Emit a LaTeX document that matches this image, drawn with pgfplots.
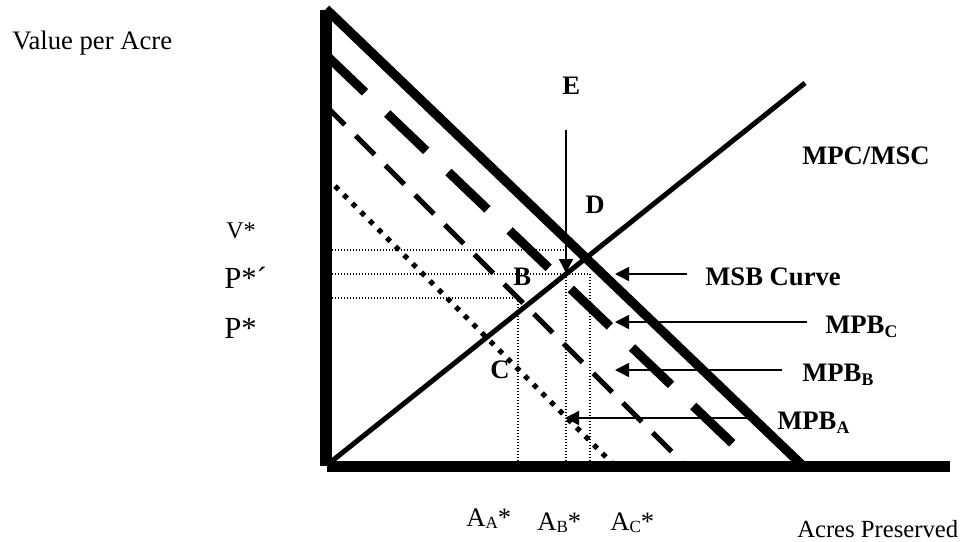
\documentclass[border=0pt]{standalone}
\usepackage{fontspec}
\setmainfont{Liberation Serif}
\usepackage{pgfplots}
\pgfplotsset{compat=1.18}
\usetikzlibrary{arrows.meta}
\newcommand{\bsub}[1]{\raisebox{-3pt}{\fontsize{13.3}{14}\selectfont\bfseries #1}}
\newcommand{\rsub}[1]{\raisebox{-2pt}{\fontsize{12.8}{14}\selectfont #1}}
\begin{document}
\begin{tikzpicture}[
  lab/.style={font=\fontsize{20}{24}\selectfont, inner sep=0pt, anchor=base west},
  blab/.style={font=\fontsize{20}{24}\selectfont\bfseries, inner sep=0pt, anchor=base west},
  arr/.style={black, line width=1.1pt, -{Triangle[length=10.5pt,width=10.5pt]}},
  dots/.style={black, line width=0.9pt, dash pattern=on 0.9pt off 1.35pt}
]
\begin{axis}[
  scale only axis, width=729pt, height=406.5pt,
  xmin=0, xmax=972, ymin=0, ymax=542, y dir=reverse,
  hide axis, clip=false
]
\path (axis cs:0,0) rectangle (axis cs:972,542);
% dotted guide lines
\addplot[dots] coordinates {(332,250) (568,250)};
\addplot[dots] coordinates {(332,274) (590,274)};
\addplot[dots] coordinates {(332,298) (518,298)};
\addplot[dots] coordinates {(518,298) (518,461)};
\addplot[dots] coordinates {(566,274) (566,461)};
\addplot[dots] coordinates {(590,274) (590,461)};
% MSB curve
\addplot[black, line width=7pt] coordinates {(326,9) (803,466)};
% MPB_C
\addplot[black, line width=6.8pt, dash pattern=on 40.5pt off 23pt] coordinates {(326,55) (756,466)};
% MPB_B
\addplot[black, line width=3.75pt, dash pattern=on 20pt off 11.5pt] coordinates {(326,106) (686,466)};
% MPB_A
\addplot[black, line width=3.75pt, dash pattern=on 3.75pt off 5.4pt] coordinates {(335,186) (613,464)};
% MPC/MSC
\addplot[black, line width=3.75pt] coordinates {(332,461) (805,83)};
% arrows
\addplot[arr] coordinates {(566,130) (566,273)};
\addplot[arr] coordinates {(687,274) (615,274)};
\addplot[arr] coordinates {(807,322) (615,322)};
\addplot[arr] coordinates {(782,370) (615,370)};
\addplot[arr] coordinates {(750,418) (565,418)};
% axes
\addplot[black, line width=9pt] coordinates {(326,10) (326,466)};
\addplot[black, line width=8.25pt] coordinates {(327,466.5) (950,466.5)};
% labels
\node[lab] at (axis cs:12,50) {Value per Acre};
\node[lab, font=\fontsize{18}{22}\selectfont] at (axis cs:226,238) {V*};
\node[lab, font=\fontsize{23}{27}\selectfont] at (axis cs:224,288) {P*´};
\node[lab, font=\fontsize{23}{27}\selectfont] at (axis cs:224,338) {P*};
\node[blab] at (axis cs:562,95) {E};
\node[blab] at (axis cs:585,213) {D};
\node[blab] at (axis cs:513,285) {B};
\node[blab] at (axis cs:490,378) {C};
\node[blab] at (axis cs:802,165) {MPC/MSC};
\node[blab] at (axis cs:705,285) {MSB Curve};
\node[blab] at (axis cs:825,333) {MPB\bsub{C}};
\node[blab] at (axis cs:802,381) {MPB\bsub{B}};
\node[blab] at (axis cs:777,429) {MPB\bsub{A}};
\node[lab] at (axis cs:466,526) {A\rsub{A}*};
\node[lab] at (axis cs:537,530) {A\rsub{B}*};
\node[lab] at (axis cs:610,530) {A\rsub{C}*};
\node[lab, font=\fontsize{18.5}{22}\selectfont] at (axis cs:797,537) {Acres Preserved};
\end{axis}
\end{tikzpicture}
\end{document}
